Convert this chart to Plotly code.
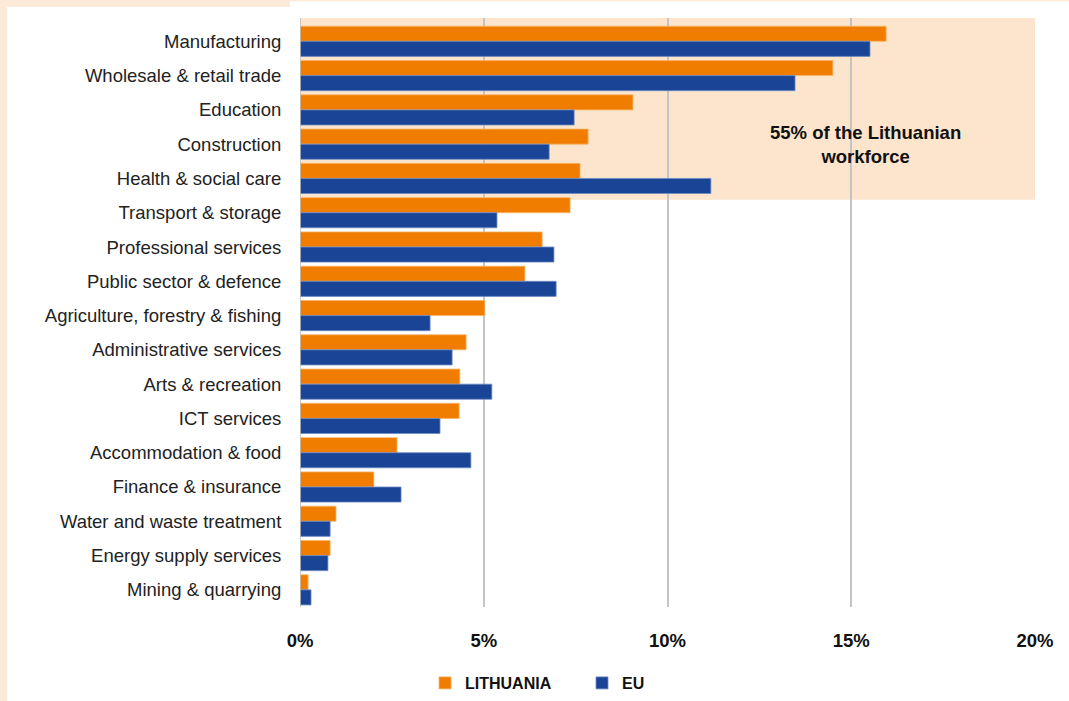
import plotly.graph_objects as go

categories = ["Manufacturing", "Wholesale & retail trade", "Education", "Construction",
              "Health & social care", "Transport & storage", "Professional services",
              "Public sector & defence", "Agriculture, forestry & fishing",
              "Administrative services", "Arts & recreation", "ICT services",
              "Accommodation & food", "Finance & insurance", "Water and waste treatment",
              "Energy supply services", "Mining & quarrying"]
lithuania = [15.95, 14.5, 9.06, 7.84, 7.62, 7.35, 6.59, 6.12, 5.03, 4.52, 4.35, 4.33,
             2.64, 2.01, 0.98, 0.82, 0.22]
eu = [15.51, 13.47, 7.46, 6.78, 11.18, 5.36, 6.91, 6.97, 3.54, 4.14, 5.22, 3.81,
      4.65, 2.75, 0.82, 0.76, 0.30]
x_ticks = [0, 5, 10, 15, 20]
x_tick_labels = ["0%", "5%", "10%", "15%", "20%"]

ORANGE = "#F07D00"
BLUE = "#1A4496"
SHADE = "#FCE5CC"
BORDER = "#FDEBD9"
FONT = "Liberation Sans, Arial, Helvetica, sans-serif"

W, H = 1069, 701
ML, MR, MT, MB = 300, 34, 18, 94

fig = go.Figure()
fig.add_trace(go.Bar(y=categories, x=lithuania, orientation="h", name="LITHUANIA",
                     marker=dict(color=ORANGE, line=dict(color="#F9B56A", width=0.8))))
fig.add_trace(go.Bar(y=categories, x=eu, orientation="h", name="EU",
                     marker=dict(color=BLUE, line=dict(color="#6F8CC4", width=0.8))))

pw = W - ML - MR
ph = H - MT - MB
# shaded region for top 5 categories
fig.add_shape(type="rect", xref="x", yref="y", x0=0, x1=20, y0=-0.68, y1=4.62,
              fillcolor=SHADE, line=dict(width=0), layer="below")
# peach page border strips
fig.add_shape(type="rect", xref="paper", yref="paper",
              x0=-ML / pw, x1=(7 - ML) / pw, y0=-MB / ph, y1=1 + MT / ph,
              fillcolor=BORDER, line=dict(width=0), layer="below")
fig.add_shape(type="rect", xref="paper", yref="paper",
              x0=-ML / pw, x1=(290 - ML) / pw, y0=1 + (MT - 7) / ph, y1=1 + MT / ph,
              fillcolor=BORDER, line=dict(width=0), layer="below")
fig.add_shape(type="rect", xref="paper", yref="paper",
              x0=(290 - ML) / pw, x1=1 + MR / pw, y0=1 + (MT - 1.5) / ph, y1=1 + MT / ph,
              fillcolor=BORDER, line=dict(width=0), layer="below")

fig.add_annotation(x=15.4, y=3.0, xref="x", yref="y",
                   text="55% of the Lithuanian<br>workforce", showarrow=False,
                   font=dict(family=FONT, size=18.5, color="#111111", weight="bold"),
                   align="center")

fig.update_layout(
    width=W, height=H, autosize=False,
    margin=dict(l=ML, r=MR, t=MT, b=MB, autoexpand=False),
    paper_bgcolor="white", plot_bgcolor="rgba(0,0,0,0)",
    barmode="group", bargap=0.12, bargroupgap=0,
    font=dict(family=FONT, color="#1a1a1a"),
    showlegend=True,
    legend=dict(orientation="h", xref="container", yref="container",
                x=425 / W, xanchor="left",
                y=(H - 683) / H, yanchor="middle",
                traceorder="normal", entrywidth=112, entrywidthmode="pixels",
                font=dict(family=FONT, size=16, color="#111111", weight="bold"),
                itemwidth=30, bgcolor="rgba(0,0,0,0)"),
    xaxis=dict(range=[0, 20], tickvals=x_ticks, ticktext=x_tick_labels,
               showgrid=True, gridcolor="#C4C4C4", gridwidth=1.5,
               zeroline=False, showline=False, automargin=False,
               ticks="outside", ticklen=17, tickcolor="rgba(0,0,0,0)",
               tickfont=dict(family=FONT, size=18.5, color="#111111", weight="bold")),
    yaxis=dict(categoryorder="array", categoryarray=categories,
               range=[16.5, -0.68], showgrid=False, zeroline=False,
               showline=False, ticks="outside", ticklen=14, automargin=False,
               tickcolor="rgba(0,0,0,0)",
               tickfont=dict(family=FONT, size=18.5, color="#222222")),
)
# zero axis line
fig.add_shape(type="line", xref="x", yref="paper", x0=0, x1=0, y0=0, y1=1,
              line=dict(color="#BDBDBD", width=1.5), layer="above")

fig.write_html("out.html", config={"displayModeBar": False, "responsive": False},
               post_script=("document.body.style.margin='0';"
                            "document.body.style.overflow='hidden';"
                            "document.body.style.background="
                            "'linear-gradient(to right, #FDEBD9 7px, white 7px)';"))
